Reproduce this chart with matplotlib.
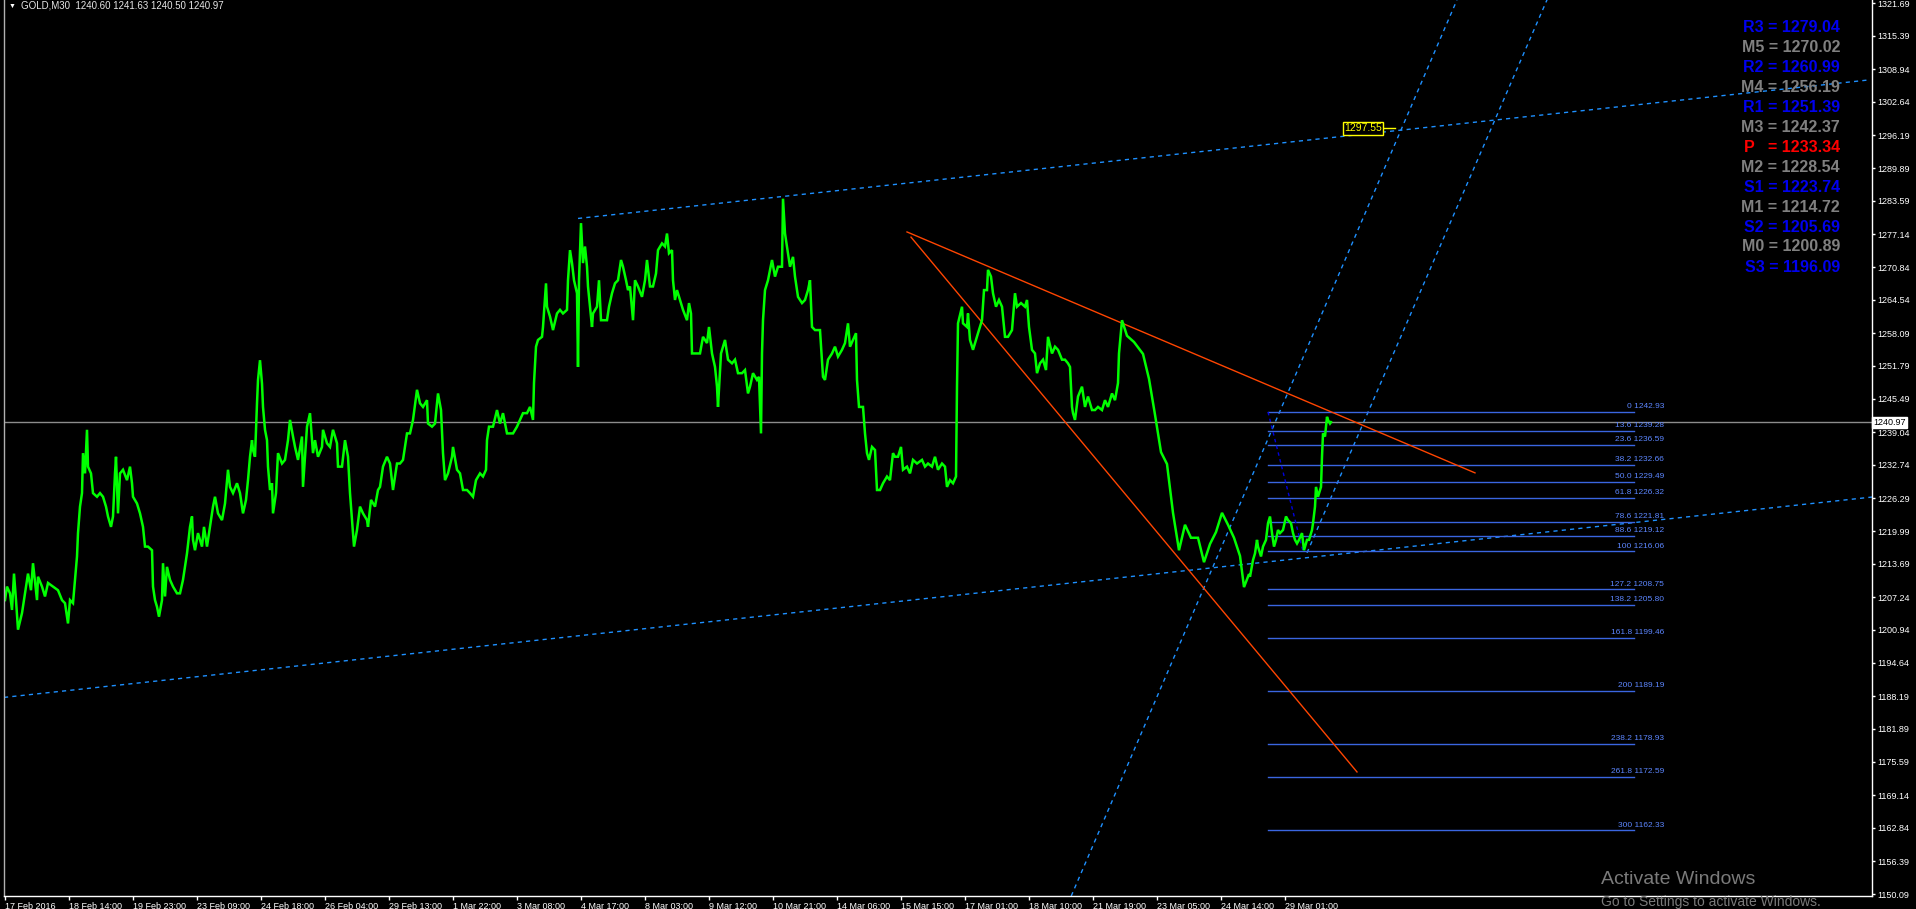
import matplotlib
matplotlib.use("Agg")
import matplotlib.pyplot as plt

plt.rcParams['font.family'] = ['Liberation Sans', 'DejaVu Sans']

# GOLD M30 closes, (bar, price)
closes_feb = [(5, 1206.7), (7, 1209.3), (10, 1208.0), (12, 1204.8), (14, 1211.8), (16, 1206.7), (18, 1201.0),
              (22, 1204.2), (24, 1206.7), (28, 1211.8), (31, 1208.6), (33, 1213.8), (37, 1206.7), (38, 1211.2),
              (42, 1209.3), (45, 1207.4), (48, 1210.0), (53, 1209.3), (58, 1208.6), (62, 1206.7), (65, 1206.1),
              (68, 1202.2), (70, 1206.7), (73, 1206.1), (75, 1210.6), (77, 1215.1), (78, 1219.6), (80, 1224.7),
              (82, 1227.3), (83, 1235.0), (85, 1231.1), (87, 1239.5), (88, 1232.4), (91, 1231.1), (93, 1227.3),
              (97, 1226.6), (100, 1227.3), (103, 1226.6), (106, 1224.7), (108, 1222.8), (111, 1220.8),
              (113, 1222.8), (115, 1231.1), (116, 1234.3), (118, 1223.4), (120, 1231.1), (123, 1231.8),
              (127, 1229.8), (130, 1232.4), (132, 1229.2), (133, 1226.6), (137, 1225.3), (140, 1223.4),
              (143, 1220.8), (145, 1217.0), (148, 1217.0), (152, 1216.3), (153, 1209.3), (155, 1206.7),
              (157, 1205.4), (159, 1203.5), (162, 1206.7), (163, 1213.8), (165, 1207.4), (167, 1213.1),
              (170, 1210.6), (173, 1209.3), (177, 1208.0), (180, 1208.0), (183, 1210.6), (185, 1213.1),
              (187, 1215.7), (190, 1220.8), (192, 1222.8), (193, 1218.3), (195, 1216.3), (198, 1219.6),
              (202, 1217.0), (204, 1220.8), (207, 1217.0), (210, 1220.8), (213, 1224.7), (215, 1226.6),
              (218, 1223.4), (222, 1222.1), (225, 1225.3), (228, 1231.8), (230, 1228.5), (233, 1227.3),
              (237, 1229.2), (240, 1227.3), (243, 1223.4), (246, 1226.0), (248, 1229.8), (250, 1234.3),
              (252, 1237.5), (253, 1235.6), (255, 1234.3), (257, 1244.6), (258, 1249.1), (260, 1252.9),
              (262, 1248.4), (263, 1243.9), (265, 1239.5), (267, 1237.5), (268, 1232.4), (270, 1227.9),
              (272, 1229.2), (273, 1223.4), (276, 1227.3), (278, 1235.0), (282, 1233.0), (285, 1233.7),
              (288, 1237.5), (290, 1241.4), (293, 1238.2), (295, 1236.2), (298, 1233.7), (302, 1238.2),
              (303, 1228.5), (307, 1240.1), (310, 1242.7), (313, 1235.0), (315, 1237.5), (318, 1234.3),
              (322, 1236.2), (323, 1239.5), (327, 1236.9), (330, 1236.2), (333, 1239.5), (337, 1236.9),
              (338, 1232.4), (342, 1232.4), (345, 1237.5), (348, 1234.3), (350, 1227.3), (353, 1219.6),
              (354, 1217.0), (357, 1220.2), (360, 1224.7), (363, 1223.4), (367, 1222.1), (368, 1220.8),
              (371, 1226.0), (375, 1224.7), (378, 1227.9)]

closes_early_mar = [(380, 1228.5), (383, 1232.4), (387, 1234.3), (390, 1233.0), (393, 1227.9), (397, 1233.0),
                    (400, 1233.0), (403, 1233.7), (407, 1238.8), (410, 1238.8), (413, 1241.4), (417, 1247.2),
                    (420, 1244.6), (423, 1243.9), (427, 1245.2), (428, 1240.7), (432, 1240.1), (435, 1240.7),
                    (438, 1246.5), (441, 1243.3), (443, 1235.0), (445, 1229.8), (448, 1231.1), (452, 1234.3),
                    (453, 1236.2), (457, 1231.8), (460, 1231.1), (463, 1227.9), (467, 1227.9), (470, 1227.3),
                    (473, 1226.6), (476, 1229.8), (480, 1231.1), (483, 1230.5), (486, 1231.8), (487, 1237.5),
                    (489, 1240.1), (493, 1240.1), (497, 1243.3), (500, 1240.7), (503, 1242.7), (507, 1238.8),
                    (510, 1238.8), (513, 1238.8), (517, 1240.1), (520, 1241.4), (523, 1242.7), (527, 1242.7),
                    (530, 1243.9), (533, 1241.4), (534, 1248.5), (536, 1255.5), (538, 1256.8), (542, 1257.4),
                    (543, 1259.3), (546, 1267.7), (547, 1263.2), (550, 1261.3), (553, 1258.7), (557, 1261.9),
                    (560, 1262.6), (563, 1261.9), (567, 1262.6), (568, 1268.3), (570, 1274.1), (572, 1271.6),
                    (574, 1268.3), (577, 1265.8), (578, 1251.6), (579, 1268.3), (581, 1279.3), (583, 1271.6),
                    (585, 1274.8), (587, 1270.9), (588, 1267.1), (590, 1263.2), (592, 1259.3), (593, 1261.9),
                    (597, 1263.2), (599, 1268.3), (601, 1260.6), (603, 1260.6), (607, 1260.6), (609, 1263.2),
                    (612, 1265.8), (615, 1267.7), (618, 1268.3), (621, 1272.2), (623, 1270.9), (626, 1268.3),
                    (628, 1266.4), (630, 1267.1), (633, 1260.6), (635, 1268.3), (638, 1267.1), (642, 1265.1),
                    (645, 1268.3), (647, 1272.2), (650, 1267.1), (653, 1267.1), (656, 1269.6), (658, 1274.1),
                    (662, 1275.4), (665, 1274.8), (667, 1277.3), (669, 1273.5), (672, 1274.1), (673, 1268.3),
                    (675, 1264.5), (677, 1266.4), (680, 1264.5), (683, 1262.6), (687, 1260.6), (689, 1263.9),
                    (691, 1261.9), (692, 1254.2), (695, 1254.2), (700, 1254.2), (703, 1257.4), (707, 1256.2),
                    (709, 1259.3), (712, 1254.2), (715, 1251.6), (717, 1247.8), (718, 1243.9), (721, 1254.2),
                    (723, 1255.5), (725, 1256.8), (728, 1253.0), (732, 1252.3), (735, 1253.0), (738, 1250.4),
                    (742, 1250.4), (745, 1251.0), (748, 1246.5)]

closes_mid_mar = [(750, 1247.8), (753, 1250.4), (757, 1249.1), (759, 1249.7), (761, 1238.8), (762, 1254.2),
                  (763, 1260.6), (765, 1266.4), (768, 1268.3), (772, 1272.2), (775, 1269.0), (778, 1270.9),
                  (782, 1270.9), (783, 1284.0), (785, 1277.3), (788, 1273.5), (790, 1270.9), (793, 1272.8),
                  (795, 1269.0), (798, 1265.1), (802, 1263.9), (805, 1264.5), (808, 1266.4), (810, 1268.3),
                  (812, 1259.3), (815, 1258.7), (820, 1258.7), (823, 1249.7), (825, 1249.1), (828, 1253.0),
                  (832, 1254.2), (835, 1255.5), (838, 1253.6), (842, 1254.9), (845, 1256.2), (848, 1260.0),
                  (850, 1255.5), (853, 1256.8), (856, 1258.1), (857, 1249.1), (859, 1243.9), (863, 1243.9),
                  (865, 1238.8), (867, 1235.0), (869, 1233.7), (872, 1236.2), (875, 1235.6), (877, 1227.9),
                  (880, 1227.9), (883, 1229.2), (887, 1230.5), (890, 1229.8), (893, 1235.0), (895, 1234.3),
                  (898, 1234.3), (901, 1236.2), (903, 1231.8), (907, 1232.4), (910, 1231.1), (913, 1233.7),
                  (917, 1233.0), (922, 1233.7), (925, 1232.4), (928, 1233.0), (932, 1232.4), (935, 1234.3),
                  (938, 1231.8), (942, 1233.0), (945, 1232.4), (947, 1228.5), (950, 1229.8), (953, 1229.2),
                  (956, 1230.5), (957, 1247.8), (958, 1260.0), (962, 1263.2), (963, 1260.0), (967, 1259.3),
                  (968, 1261.9), (970, 1256.8), (973, 1254.9), (975, 1256.2), (978, 1258.1), (982, 1260.6),
                  (984, 1266.4), (987, 1266.4), (988, 1270.3), (991, 1269.0), (993, 1265.8), (996, 1263.2),
                  (999, 1264.5), (1002, 1263.2), (1005, 1257.4), (1008, 1257.4), (1012, 1258.7), (1015, 1265.8),
                  (1017, 1263.2), (1021, 1263.9), (1025, 1263.2), (1027, 1264.5), (1029, 1259.3), (1032, 1254.9),
                  (1035, 1254.2), (1037, 1250.4), (1040, 1252.3), (1043, 1253.0), (1046, 1251.0), (1048, 1257.4),
                  (1052, 1254.2), (1055, 1255.5), (1058, 1254.9), (1062, 1253.0), (1065, 1253.0), (1068, 1252.3),
                  (1070, 1251.6), (1072, 1243.9), (1073, 1242.7), (1075, 1241.4), (1078, 1245.9), (1082, 1247.8),
                  (1085, 1243.9), (1088, 1245.9), (1092, 1243.3), (1095, 1243.3), (1098, 1243.9), (1102, 1243.3),
                  (1105, 1245.2), (1108, 1243.9), (1112, 1246.5), (1115, 1245.2), (1118, 1248.5), (1119, 1254.2)]

closes_late_mar = [(1122, 1260.6), (1127, 1257.6), (1134, 1256.4), (1143, 1254.1), (1149, 1249.3), (1155, 1242.4),
                   (1161, 1235.2), (1167, 1232.9), (1173, 1223.5), (1179, 1216.3), (1185, 1221.2), (1191, 1218.7),
                   (1198, 1218.7), (1204, 1214.0), (1210, 1217.5), (1216, 1219.8), (1222, 1223.5), (1228, 1221.2),
                   (1234, 1218.7), (1240, 1215.2), (1244, 1209.2), (1249, 1211.7), (1250, 1211.2), (1253, 1214.4),
                   (1255, 1215.7), (1257, 1218.3), (1258, 1217.0), (1261, 1215.1), (1263, 1217.0), (1266, 1218.3),
                   (1268, 1221.5), (1270, 1222.8), (1272, 1219.6), (1274, 1217.0), (1276, 1218.3), (1278, 1220.2),
                   (1280, 1219.6), (1283, 1220.2), (1286, 1222.8), (1288, 1222.1), (1291, 1221.5), (1293, 1219.6),
                   (1295, 1218.3), (1297, 1217.6), (1299, 1218.3), (1302, 1219.6), (1304, 1216.3), (1307, 1218.3),
                   (1309, 1218.3), (1312, 1220.2), (1313, 1221.5), (1315, 1224.7), (1316, 1228.5), (1318, 1226.6),
                   (1321, 1228.5), (1322, 1234.3), (1323, 1238.8), (1325, 1238.2), (1327, 1242.0), (1328, 1241.4),
                   (1330, 1240.7), (1331, 1240.97)]

header = "GOLD,M30  1240.60 1241.63 1240.50 1240.97"
last_close = 1240.97

y_ticks = [1321.69, 1315.39, 1308.94, 1302.64, 1296.19, 1289.89, 1283.59, 1277.14, 1270.84, 1264.54,
           1258.09, 1251.79, 1245.49, 1239.04, 1232.74, 1226.29, 1219.99, 1213.69, 1207.24, 1200.94,
           1194.64, 1188.19, 1181.89, 1175.59, 1169.14, 1162.84, 1156.39, 1150.09]

x_tick_bars = [5, 69, 133, 197, 261, 325, 389, 453, 517, 581, 645, 709, 773, 837, 901, 965, 1029, 1093,
               1157, 1221, 1285]
x_tick_labels = ["17 Feb 2016", "18 Feb 14:00", "19 Feb 23:00", "23 Feb 09:00", "24 Feb 18:00",
                 "26 Feb 04:00", "29 Feb 13:00", "1 Mar 22:00", "3 Mar 08:00", "4 Mar 17:00",
                 "8 Mar 03:00", "9 Mar 12:00", "10 Mar 21:00", "14 Mar 06:00", "15 Mar 15:00",
                 "17 Mar 01:00", "18 Mar 10:00", "21 Mar 19:00", "23 Mar 05:00", "24 Mar 14:00",
                 "29 Mar 01:00"]

fib_pct = ["0", "13.6", "23.6", "38.2", "50.0", "61.8", "78.6", "88.6", "100", "127.2", "138.2",
           "161.8", "200", "238.2", "261.8", "300"]
fib_price = [1242.93, 1239.28, 1236.59, 1232.66, 1229.49, 1226.32, 1221.81, 1219.12, 1216.06, 1208.75,
             1205.80, 1199.46, 1189.19, 1178.93, 1172.59, 1162.33]
fib_bars = (1268, 1634)
fib_text_bar = 1664
fib_anchor = [(1268, 1242.93), (1303, 1216.06)]

channel_top = [(578, 1280.2), (1870, 1306.9)]
channel_bottom = [(6, 1188.0), (1870, 1226.5)]
steep_a = [(1073, 1150.5), (1457, 1322.3)]
steep_b = [(1307, 1215.8), (1547, 1322.3)]
wedge_top = [(907, 1277.6), (1475, 1231.2)]
wedge_bottom = [(911, 1276.6), (1357, 1173.6)]
channel_tag = (1395, 1297.55)

pivot_names = ["R3", "M5", "R2", "M4", "R1", "M3", "P  ", "M2", "S1", "M1", "S2", "M0", "S3"]
pivot_values = [1279.04, 1270.02, 1260.99, 1256.19, 1251.39, 1242.37, 1233.34, 1228.54, 1223.74,
                1214.72, 1205.69, 1200.89, 1196.09]

W, H = 1916, 909
fig = plt.figure(figsize=(W / 100, H / 100), dpi=100, facecolor='black')
ax = fig.add_axes([4 / W, 13 / H, 1868 / W, 896 / H], facecolor='black')
ax.set_xlim(4, 1872)
ax.set_ylim(1149.71, 1322.27)

blue_dot = dict(color='#1e90ff', lw=1.0, linestyle=(0, (3, 3)))

# channel and steep lines
ax.plot([p[0] for p in channel_top], [p[1] for p in channel_top], **blue_dot)
ax.axline(channel_bottom[0], channel_bottom[1], **blue_dot)
ax.axline(steep_a[0], steep_a[1], **blue_dot)
slope_b = (steep_b[1][1] - steep_b[0][1]) / (steep_b[1][0] - steep_b[0][0])
ax.plot([steep_b[0][0], 1700], [steep_b[0][1], steep_b[0][1] + slope_b * (1700 - steep_b[0][0])], **blue_dot)

# fibonacci levels
for pct, lvl in zip(fib_pct, fib_price):
    ax.plot(fib_bars, [lvl, lvl], color='#3a66e0', lw=1.0)
    ax.text(fib_text_bar, lvl + 0.35, f"{pct} {lvl:.2f}", color='#5c86ff', fontsize=6,
            ha='right', va='bottom')
ax.plot([p[0] for p in fib_anchor], [p[1] for p in fib_anchor], color='#0000dd', lw=1.0,
        linestyle=(0, (2.5, 2.5)))

# current price line
ax.axhline(last_close, color='#8c8c8c', lw=1.0)

# wedge lines
ax.plot([p[0] for p in wedge_top], [p[1] for p in wedge_top], color='#ff4500', lw=1.0)
ax.plot([p[0] for p in wedge_bottom], [p[1] for p in wedge_bottom], color='#ff4500', lw=1.0)

# price
pts = closes_feb + closes_early_mar + closes_mid_mar + closes_late_mar
ax.plot([p[0] for p in pts], [p[1] for p in pts], color='#00ff00', lw=1.8, solid_joinstyle='miter')

# channel price tag
ax.plot([channel_tag[0] - 11, channel_tag[0]], [channel_tag[1]] * 2, color='yellow', lw=1)
ax.text(channel_tag[0] - 32, channel_tag[1], f"{channel_tag[1]:.2f}", color='yellow', fontsize=7.5,
        ha='center', va='center',
        bbox=dict(boxstyle='square,pad=0.15', fc='black', ec='yellow', lw=1))

# pivot legend
for i, (nm, val) in enumerate(zip(pivot_names, pivot_values)):
    col = '#ff0000' if nm.startswith('P') else ('#808080' if nm.startswith('M') else '#0000ee')
    fig.text(1840 / W, 1 - (27 + 20 * i) / H, f"{nm} = {val:.2f}", color=col, fontsize=11.5,
             fontweight='bold', ha='right', va='center')

# header
fig.text(9 / W, 1 - 6 / H, "\u25bc", color='white', fontsize=5, va='center', ha='left')
fig.text(21 / W, 1 - 6 / H, header, color='#e6e6e6', fontsize=7, va='center', ha='left')

# axes styling
for side in ['left', 'bottom', 'right']:
    ax.spines[side].set_color('white')
    ax.spines[side].set_linewidth(1)
ax.spines['left'].set_color('#b0b0b0')
ax.spines['top'].set_visible(False)

ax.yaxis.tick_right()
ax.set_yticks(y_ticks)
ax.set_yticklabels([f"{v:.2f}" for v in y_ticks])
ax.tick_params(axis='y', colors='white', labelsize=6.5, length=2.5, pad=1.5, width=1)
ax.set_xticks(x_tick_bars)
ax.set_xticklabels(x_tick_labels, ha='left')
ax.tick_params(axis='x', colors='white', labelsize=6.5, length=3, pad=1, width=1)

# current price tag on the axis
ax.text(1.0 + 1.5 / 1868, last_close, f"{last_close:.2f}", transform=ax.get_yaxis_transform(),
        color='black', fontsize=6.5, ha='left', va='center',
        bbox=dict(boxstyle='square,pad=0.12', fc='white', ec='white'))

# windows watermark
fig.text(1601 / W, 1 - 880 / H, "Activate Windows", color='#7a7a7a', fontsize=14, ha='left', va='center')
fig.text(1601 / W, 1 - 902 / H, "Go to Settings to activate Windows.", color='#7a7a7a', fontsize=10,
         ha='left', va='center')

fig.savefig("out.png", dpi=100, facecolor='black')
